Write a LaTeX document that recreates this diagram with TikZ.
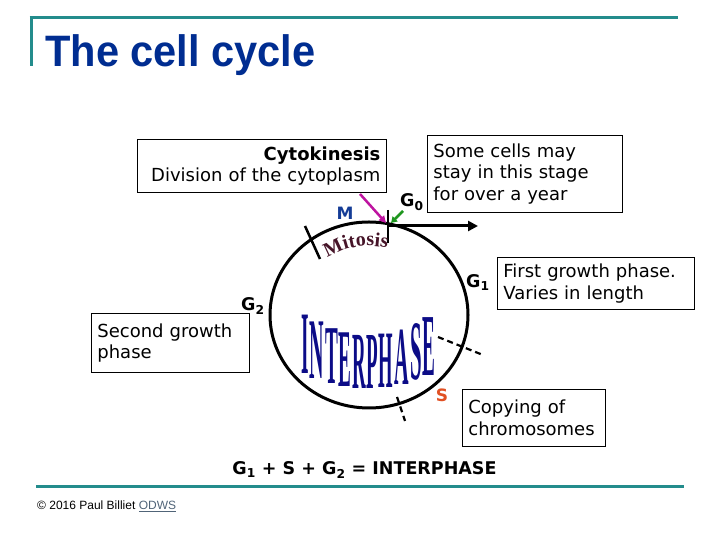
\documentclass[tikz,border=0pt]{standalone}
\usepackage{graphicx}
\usepackage{fontspec}
\setmainfont{DejaVu Sans}
\newfontfamily\arialfont{Liberation Sans}
\newfontfamily\timesfont{Liberation Serif}
\usetikzlibrary{arrows.meta,decorations.text}
\definecolor{teal2}{RGB}{35,140,140}
\definecolor{titleblue}{RGB}{0,45,145}
\definecolor{mblue}{RGB}{20,60,150}
\definecolor{sorange}{RGB}{225,80,35}
\definecolor{magarrow}{RGB}{190,20,160}
\definecolor{grarrow}{RGB}{30,150,30}
\definecolor{interblue}{RGB}{12,12,135}
\definecolor{mitcol}{RGB}{70,20,40}
\definecolor{odws}{RGB}{80,100,120}
\tikzset{
  txtbox/.style={draw=black, line width=0.8bp, inner xsep=6bp, inner ysep=0bp,
    font=\fontsize{18bp}{21.5bp}\selectfont},
  glab/.style={inner sep=0pt, font=\bfseries\fontsize{17.5bp}{17.5bp}\selectfont},
  tealline/.style={draw=teal2, line width=3bp},
  cyclepath/.style={line width=3bp, draw=black},
  tick/.style={line width=2.5bp, draw=black},
  dashline/.style={line width=2.2bp, dashed, dash pattern=on 6bp off 4bp},
  iletter/.style={inner sep=0pt, text=interblue},
}
\newcommand{\ilet}[5]{%
  \node[iletter] (#5) at (#1) {\resizebox{#2bp}{#3bp}{\timesfont\bfseries #4}};}
\begin{document}
\begin{tikzpicture}[x=1bp,y=1bp]
\useasboundingbox (0,0) rectangle (720,540);
% frame lines
\coordinate (tl) at (31,522);
\coordinate (tr) at (678,522);
\coordinate (tlb) at (31,474);
\draw[tealline] (29.5,522) -- (tr);
\draw[tealline] (tl) -- (tlb);
\coordinate (bl) at (36,53);
\coordinate (br) at (684,53);
\draw[tealline] (bl) -- (br);
% title
\node[anchor=base west, inner sep=0pt, text=titleblue] (title) at (45,473)
  {\arialfont\bfseries\fontsize{44bp}{44bp}\selectfont\scalebox{0.945}[1]{The cell cycle}};
% copyright
\node[anchor=base west, inner sep=0pt] (copy) at (37,30)
  {\arialfont\fontsize{12bp}{12bp}\selectfont \textcopyright\ 2016 Paul Billiet \textcolor{odws}{\underline{ODWS}}};
% cycle
\node[draw=none, inner sep=0pt] (cc) at (369,225) {};
\draw[cyclepath] (cc) ellipse [x radius=99, y radius=93];
% ticks
\coordinate (t0a) at (388,330);
\coordinate (t0b) at (388,297);
\draw[tick] (t0a) -- (t0b);
\coordinate (tma) at (305,314);
\coordinate (tmb) at (320,281);
\draw[tick] (tma) -- (tmb);
% G0 exit arrow
\coordinate (g0start) at (388,314);
\coordinate (g0end) at (478,314);
\draw[line width=3bp, -{Triangle[length=10bp,width=10bp]}] (g0start) -- (g0end);
% dashed S boundaries
\coordinate (d1a) at (438,203);
\coordinate (d1b) at (483,185);
\draw[dashline] (d1a) -- (d1b);
\coordinate (d2a) at (397,143);
\coordinate (d2b) at (405,119);
\draw[dashline] (d2a) -- (d2b);
% Mitosis arched text
\path[decorate, decoration={text along path, text align=center,
  text color=mitcol,
  text={|\timesfont\bfseries\fontsize{20bp}{20bp}\selectfont|Mitosis}}]
  (cc) ++(127:74 and 69) arc[start angle=127, end angle=73, x radius=74, y radius=69];
% INTERPHASE arched letters
\ilet{305.6,195.4}{7.5}{58.4}{I}{l1}
\ilet{317.1,189.4}{14.5}{56.6}{N}{l2}
\ilet{331.7,183.6}{12.8}{54.8}{T}{l3}
\ilet{345.0,180.0}{12.8}{53.7}{E}{l4}
\ilet{358.9,177.9}{13.6}{53.1}{R}{l5}
\ilet{372.2,177.6}{11.6}{53.0}{P}{l6}
\ilet{386.2,178.9}{14.5}{53.4}{H}{l7}
\ilet{401.9,182.5}{14.5}{54.5}{A}{l8}
\ilet{415.8,187.6}{11.6}{56.0}{S}{l9}
\ilet{428.6,193.8}{12.8}{57.9}{E}{l10}
% boxes
\node[txtbox, align=right, text width=237bp, minimum height=53bp, anchor=north west]
  (cyto) at (137,401) {\textbf{Cytokinesis}\\Division of the cytoplasm};
\node[txtbox, align=left, text width=183bp, minimum height=77bp, anchor=north west]
  (g0box) at (427,405) {Some cells may\\stay in this stage\\for over a year};
\node[txtbox, align=left, text width=185bp, minimum height=52bp, anchor=north west]
  (g1box) at (497,283) {First growth phase.\\Varies in length};
\node[txtbox, align=left, text width=146bp, minimum height=59bp, anchor=north west]
  (g2box) at (91,227) {Second growth\\phase};
\node[txtbox, align=left, text width=131bp, minimum height=57bp, anchor=north west]
  (sbox) at (462,151) {Copying of\\chromosomes};
% labels
\node[inner sep=0pt, text=mblue, font=\bfseries\fontsize{17bp}{17bp}\selectfont] (M) at (345,327) {M};
\node[glab, anchor=base west] (G0) at (400,333) {G\textsubscript{0}};
\node[glab, anchor=base west] (G1) at (466,252) {G\textsubscript{1}};
\node[glab, anchor=base west] (G2) at (241,229) {G\textsubscript{2}};
\node[inner sep=0pt, text=sorange, font=\bfseries\fontsize{17bp}{17bp}\selectfont] (S) at (442,145) {S};
\node[glab, anchor=base] (eq) at (364.5,65) {G\textsubscript{1} + S + G\textsubscript{2} = INTERPHASE};
% pointer arrows
\coordinate (magstart) at (360,346);
\coordinate (magend) at (386,317);
\draw[magarrow, line width=2.5bp, -{Triangle[length=7bp,width=7bp]}] (magstart) -- (magend);
\coordinate (grstart) at (403,329);
\coordinate (grend) at (391,317);
\draw[grarrow, line width=2.5bp, -{Triangle[length=6bp,width=7bp]}] (grstart) -- (grend);
\end{tikzpicture}
\end{document}
